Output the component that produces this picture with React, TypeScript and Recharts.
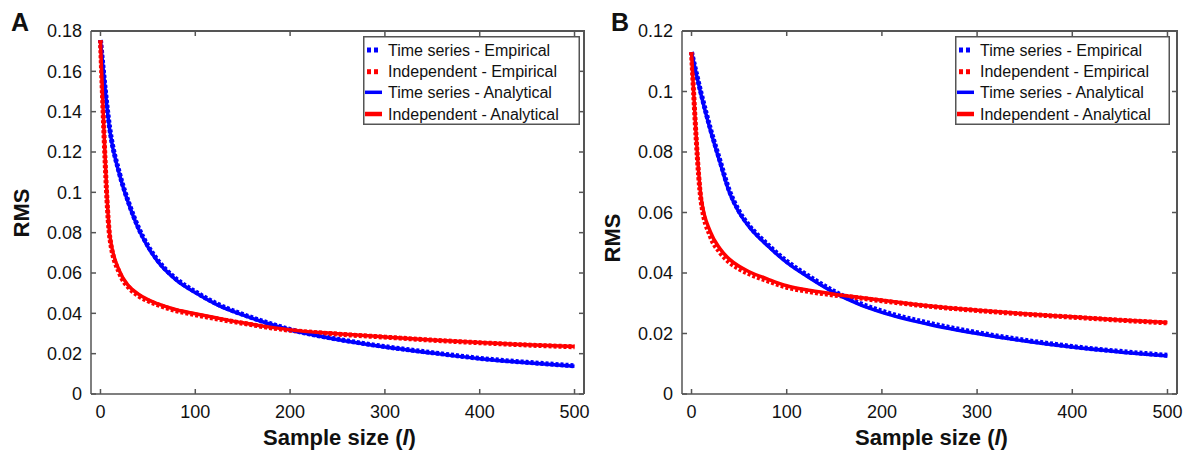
import React from "react";
import { LineChart, Line, XAxis, YAxis, Legend, CartesianGrid } from "recharts";

// ---------- data ----------
const X_VALUES = [0, 10, 20, 30, 40, 50, 60, 80, 100, 125, 150, 175, 200, 250, 300, 350, 400, 450, 500];
const X_TICKS = [0, 100, 200, 300, 400, 500];

// Panel A
const A_TS_EMP = [0.1755, 0.131, 0.1095, 0.0945, 0.0825, 0.0735, 0.0665, 0.057, 0.0507, 0.0442, 0.0395, 0.0355, 0.032, 0.0272, 0.0235, 0.0205, 0.0177, 0.0157, 0.014];
const A_IND_EMP = [0.1755, 0.077, 0.06, 0.0527, 0.0488, 0.0462, 0.0443, 0.0413, 0.0393, 0.0371, 0.0351, 0.0332, 0.0316, 0.0297, 0.0282, 0.0267, 0.0254, 0.0243, 0.0234];
const A_TS_AN = [0.1755, 0.13, 0.109, 0.094, 0.082, 0.073, 0.066, 0.0565, 0.0503, 0.0438, 0.0392, 0.0352, 0.0318, 0.027, 0.0233, 0.0203, 0.0175, 0.0155, 0.0138];
const A_IND_AN = [0.1755, 0.078, 0.061, 0.0535, 0.0495, 0.0468, 0.0448, 0.0418, 0.0398, 0.0375, 0.0353, 0.0334, 0.0318, 0.0299, 0.0283, 0.0268, 0.0255, 0.0244, 0.0235];
const A_Y_TICKS = [0, 0.02, 0.04, 0.06, 0.08, 0.1, 0.12, 0.14, 0.16, 0.18];
const A_Y_LABELS = ["0", "0.02", "0.04", "0.06", "0.08", "0.1", "0.12", "0.14", "0.16", "0.18"];

// Panel B
const B_TS_EMP = [0.113, 0.0995, 0.0875, 0.077, 0.067, 0.0604, 0.0559, 0.0494, 0.0439, 0.0386, 0.0339, 0.0302, 0.0274, 0.0234, 0.0203, 0.0178, 0.0157, 0.0141, 0.0128];
const B_IND_EMP = [0.113, 0.064, 0.052, 0.0468, 0.0435, 0.0414, 0.0398, 0.0374, 0.0353, 0.0338, 0.0327, 0.0318, 0.0308, 0.029, 0.0276, 0.0264, 0.0254, 0.0244, 0.0235];
const B_TS_AN = [0.113, 0.099, 0.087, 0.0765, 0.0665, 0.06, 0.0555, 0.049, 0.0435, 0.0382, 0.0335, 0.0298, 0.027, 0.023, 0.02, 0.0175, 0.0155, 0.0139, 0.0126];
const B_IND_AN = [0.113, 0.065, 0.0535, 0.048, 0.0445, 0.0422, 0.0405, 0.038, 0.0358, 0.0342, 0.033, 0.032, 0.031, 0.0291, 0.0277, 0.0265, 0.0255, 0.0245, 0.0236];
const B_Y_TICKS = [0, 0.02, 0.04, 0.06, 0.08, 0.1, 0.12];
const B_Y_LABELS = ["0", "0.02", "0.04", "0.06", "0.08", "0.1", "0.12"];

const LEGEND_LABELS = [
  "Time series - Empirical",
  "Independent - Empirical",
  "Time series - Analytical",
  "Independent - Analytical",
];

// ---------- styling ----------
const FONT = "Arial, 'Liberation Sans', Helvetica, sans-serif";
const AXIS_COLOR = "#555555";
const BLUE = "#0000ff";
const RED = "#ff0000";
const CHART_H = 450;
const PLOT_TOP = 31;
const X_AXIS_H = 56;
const PLOT_BOTTOM = CHART_H - X_AXIS_H;
const X_DOMAIN: [number, number] = [-10, 510];

type PanelProps = {
  letter: string;
  offsetLeft: number;
  width: number;
  yAxisWidth: number;
  marginRight: number;
  yDomain: [number, number];
  yTicks: number[];
  yLabels: string[];
  tsEmp: number[];
  indEmp: number[];
  tsAn: number[];
  indAn: number[];
  legendLeft: number;
  legendWidth: number;
  rmsY: number;
  rmsX: number;
};

function LegendBox({ width }: { width: number }) {
  const h = 89;
  const rows = [14, 35.7, 56.3, 78];
  return (
    <svg width={width} height={h} style={{ display: "block" }}>
      <rect x={0.75} y={0.75} width={width - 1.5} height={h - 1.5} fill="#ffffff" stroke={AXIS_COLOR} strokeWidth={1.5} />
      {LEGEND_LABELS.map((lab, i) => {
        const cy = rows[i];
        const color = i % 2 === 0 ? BLUE : RED;
        const dotted = i < 2;
        return (
          <g key={lab}>
            {dotted ? (
              <g>
                <rect x={4} y={cy - 2.5} width={4} height={5} fill={color} />
                <rect x={11} y={cy - 2.5} width={4} height={5} fill={color} />
              </g>
            ) : (
              <line x1={2} x2={19} y1={cy} y2={cy} stroke={color} strokeWidth={i === 2 ? 3.5 : 4.5} />
            )}
            <text x={25} y={cy} dy="0.36em" fontSize={16} fontFamily={FONT} fill="#111111">
              {lab}
            </text>
          </g>
        );
      })}
    </svg>
  );
}

function Panel(p: PanelProps) {
  const data = X_VALUES.map((x, i) => ({
    x,
    tsEmp: p.tsEmp[i],
    indEmp: p.indEmp[i],
    tsAn: p.tsAn[i],
    indAn: p.indAn[i],
  }));
  const L = p.yAxisWidth;
  const R = p.width - p.marginRight;
  const T = PLOT_TOP;
  const B = PLOT_BOTTOM;

  const yTick = (props: any) => {
    const { x, y, payload } = props;
    const idx = p.yTicks.findIndex((t) => Math.abs(t - payload.value) < 1e-9);
    const lab = idx >= 0 ? p.yLabels[idx] : String(payload.value);
    return (
      <g>
        <text x={x} y={y} dy="0.36em" textAnchor="end" fontSize={18} fontFamily={FONT} fill="#111111">
          {lab}
        </text>
        <line x1={L} x2={L + 5} y1={y} y2={y} stroke={AXIS_COLOR} strokeWidth={1.5} />
        <line x1={R} x2={R - 5} y1={y} y2={y} stroke={AXIS_COLOR} strokeWidth={1.5} />
      </g>
    );
  };

  const xTick = (props: any) => {
    const { x, y, payload } = props;
    return (
      <g>
        <text x={x} y={y} dy="0.71em" textAnchor="middle" fontSize={18} fontFamily={FONT} fill="#111111">
          {String(payload.value)}
        </text>
        <line x1={x} x2={x} y1={B} y2={B - 5} stroke={AXIS_COLOR} strokeWidth={1.5} />
        <line x1={x} x2={x} y1={T} y2={T + 5} stroke={AXIS_COLOR} strokeWidth={1.5} />
      </g>
    );
  };

  const xTitle = () => (
    <text x={(L + R) / 2 + 2} y={445} textAnchor="middle" fontSize={22} fontWeight="bold" fontFamily={FONT} fill="#111111">
      <tspan>Sample size (</tspan>
      <tspan fontStyle="italic">l</tspan>
      <tspan>)</tspan>
    </text>
  );

  const yTitle = () => (
    <text
      x={p.rmsX}
      y={p.rmsY}
      textAnchor="middle"
      dy="0.36em"
      fontSize={22}
      fontWeight="bold"
      fontFamily={FONT}
      fill="#111111"
      transform={`rotate(-90 ${p.rmsX} ${p.rmsY})`}
    >
      RMS
    </text>
  );

  return (
    <div style={{ position: "absolute", left: p.offsetLeft, top: 0, width: p.width, height: CHART_H }}>
      <LineChart
        width={p.width}
        height={CHART_H}
        data={data}
        margin={{ top: PLOT_TOP, right: p.marginRight, bottom: 0, left: 0 }}
      >
        <CartesianGrid
          horizontal
          vertical
          horizontalPoints={[T]}
          verticalPoints={[R]}
          stroke={AXIS_COLOR}
          strokeWidth={1.5}
          strokeDasharray="0"
        />
        <XAxis
          dataKey="x"
          type="number"
          domain={X_DOMAIN}
          ticks={X_TICKS}
          interval={0}
          height={X_AXIS_H}
          tickSize={6}
          tickMargin={5}
          tickLine={false}
          axisLine={{ stroke: AXIS_COLOR, strokeWidth: 1.5 }}
          tick={xTick}
          label={{ content: xTitle }}
          allowDataOverflow
        />
        <YAxis
          type="number"
          domain={p.yDomain}
          ticks={p.yTicks}
          interval={0}
          width={p.yAxisWidth}
          tickSize={6}
          tickMargin={3}
          tickLine={false}
          axisLine={{ stroke: AXIS_COLOR, strokeWidth: 1.5 }}
          tick={yTick}
          label={{ content: yTitle }}
          allowDataOverflow
        />
        <Legend
          layout="vertical"
          align="center"
          verticalAlign="middle"
          wrapperStyle={{ left: p.legendLeft, top: 36, width: p.legendWidth, height: 89 }}
          content={() => <LegendBox width={p.legendWidth} />}
        />
        <Line type="monotone" dataKey="tsEmp" name={LEGEND_LABELS[0]} stroke={BLUE} strokeWidth={5} strokeDasharray="3 2" dot={false} isAnimationActive={false} />
        <Line type="monotone" dataKey="indEmp" name={LEGEND_LABELS[1]} stroke={RED} strokeWidth={5} strokeDasharray="3 2" dot={false} isAnimationActive={false} />
        <Line type="monotone" dataKey="tsAn" name={LEGEND_LABELS[2]} stroke={BLUE} strokeWidth={3.5} dot={false} isAnimationActive={false} />
        <Line type="monotone" dataKey="indAn" name={LEGEND_LABELS[3]} stroke={RED} strokeWidth={3.5} dot={false} isAnimationActive={false} />
      </LineChart>
      <svg
        width={p.width}
        height={CHART_H}
        style={{ position: "absolute", left: 0, top: 0, pointerEvents: "none" }}
      >
        <rect x={L} y={T - 1} width={R - L + 1} height={2} fill={AXIS_COLOR} />
        <rect x={R - 1} y={T - 1} width={2} height={B - T + 1} fill={AXIS_COLOR} />
        <text x={11} y={31} fontSize={25} fontWeight="bold" fontFamily={FONT} fill="#111111">
          {p.letter}
        </text>
      </svg>
    </div>
  );
}

export default function App() {
  return (
    <div style={{ position: "absolute", left: 0, top: 0, width: 1187, height: 450, background: "#ffffff", fontFamily: FONT }}>
      <Panel
        letter="A"
        offsetLeft={0}
        width={600}
        yAxisWidth={91}
        marginRight={16}
        yDomain={[0, 0.18]}
        yTicks={A_Y_TICKS}
        yLabels={A_Y_LABELS}
        tsEmp={A_TS_EMP}
        indEmp={A_IND_EMP}
        tsAn={A_TS_AN}
        indAn={A_IND_AN}
        legendLeft={363}
        legendWidth={217}
        rmsX={21}
        rmsY={213}
      />
      <Panel
        letter="B"
        offsetLeft={600}
        width={587}
        yAxisWidth={82}
        marginRight={10}
        yDomain={[0, 0.12]}
        yTicks={B_Y_TICKS}
        yLabels={B_Y_LABELS}
        tsEmp={B_TS_EMP}
        indEmp={B_IND_EMP}
        tsAn={B_TS_AN}
        indAn={B_IND_AN}
        legendLeft={355}
        legendWidth={215}
        rmsX={12}
        rmsY={238}
      />
    </div>
  );
}
